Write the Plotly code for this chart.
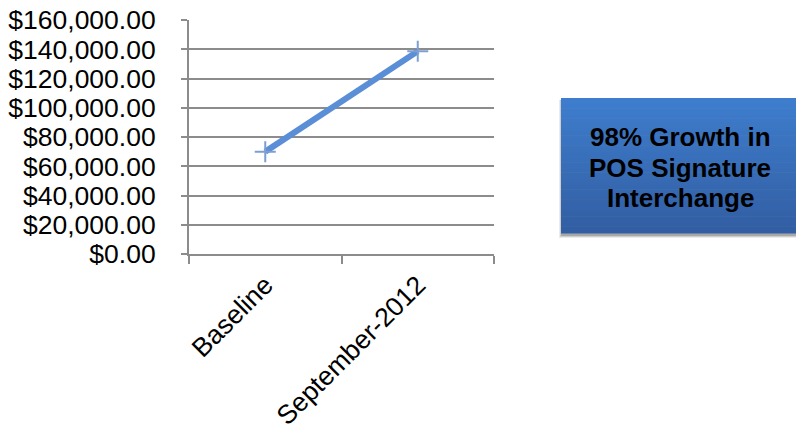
import plotly.graph_objects as go

categories = ["Baseline", "September-2012"]
values = [70000, 138600]
y_ticks = [0, 20000, 40000, 60000, 80000, 100000, 120000, 140000, 160000]
box_lines = ["98% Growth in", "POS Signature", "Interchange"]

FONT = "Liberation Sans, Arial, sans-serif"
W, H = 796, 424
L, R, T, B = 189, 494, 20, 254  # plot area in pixels

def px(x): return (x - L) / (R - L)
def py(y): return (B - y) / (B - T)

fig = go.Figure()
fig.add_trace(go.Scatter(
    x=categories, y=values, mode="lines+markers",
    line=dict(color="#5a8ed6", width=6),
    marker=dict(symbol="cross-thin", size=15, line=dict(color="#7d9ed2", width=2)),
    showlegend=False, hoverinfo="skip",
))

# Gradient box (stacked strips) with shadow
x0, x1, y0, y1 = 561, 800, 98, 233
shapes = []
for k, a in enumerate([0.08, 0.12, 0.18]):
    d = 4 - k
    shapes.append(dict(type="rect", xref="paper", yref="paper", layer="above",
                       x0=px(x0 - d + 2), x1=px(x1 + d), y0=py(y1 + d + 1), y1=py(y0 + 2),
                       fillcolor="rgba(0,0,0,%.2f)" % a, line=dict(width=0)))
n = 40
top = (62, 125, 205)
bot = (50, 94, 163)
for i in range(n):
    t = i / (n - 1)
    c = tuple(round(top[k] + (bot[k] - top[k]) * t) for k in range(3))
    ya = y0 + (y1 - y0) * i / n
    yb = y0 + (y1 - y0) * (i + 1) / n + 0.6
    shapes.append(dict(type="rect", xref="paper", yref="paper", layer="above",
                       x0=px(x0), x1=px(x1), y0=py(yb), y1=py(ya),
                       fillcolor="rgb(%d,%d,%d)" % c, line=dict(width=0)))

box_y = [137, 167.5, 197.5]
annotations = [dict(
    xref="paper", yref="paper", x=px(680), y=py(yy),
    text="<b>%s</b>" % txt, showarrow=False,
    font=dict(family=FONT, size=26, color="black"),
    xanchor="center", yanchor="middle",
) for txt, yy in zip(box_lines, box_y)]

fig.update_layout(
    width=W, height=H,
    margin=dict(l=L, r=W - R, t=T, b=H - B, autoexpand=False),
    paper_bgcolor="white", plot_bgcolor="white",
    font=dict(family=FONT, size=26, color="black"),
    shapes=shapes,
    annotations=annotations,
)
fig.update_xaxes(
    type="category", range=[-0.5, 1.5], tickangle=-45, automargin=False,
    showline=True, linecolor="#8c8c8c", linewidth=2,
    ticks="outside", tickson="boundaries", ticklen=8, tickcolor="#8c8c8c", tickwidth=2,
    showgrid=False, tickfont=dict(size=26.5), ticklabelstandoff=3,
)
fig.update_yaxes(
    range=[0, 160000], tickvals=y_ticks, tickformat="$,.2f", automargin=False,
    showline=True, linecolor="#8c8c8c", linewidth=2,
    ticks="outside", ticklen=6, tickcolor="#8c8c8c", tickwidth=2,
    showgrid=True, gridcolor="#8c8c8c", gridwidth=2,
    zeroline=False, ticklabelstandoff=20, tickfont=dict(size=26.5),
)

fig.write_html("out.html")
